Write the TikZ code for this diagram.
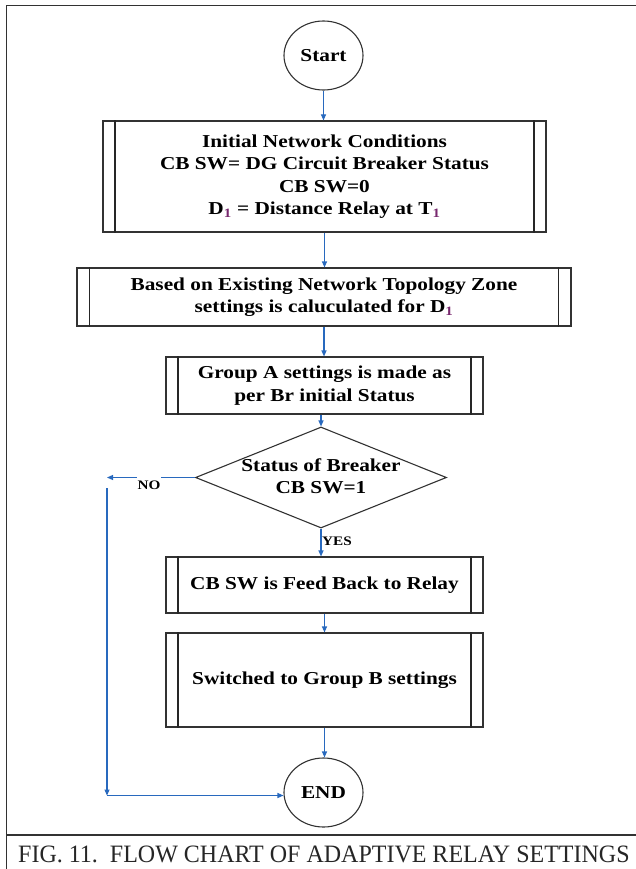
\documentclass[tikz,border=0pt]{standalone}
\usepackage{fontspec}
\setmainfont{Liberation Serif}
\newfontfamily\dfont{Liberation Serif}[FakeStretch=1.17]
\newfontfamily\capfont{Liberation Serif}[FakeStretch=0.96]
\usetikzlibrary{shapes.geometric,arrows.meta,calc}
\definecolor{flowblue}{RGB}{40,105,190}
\definecolor{subpurple}{RGB}{120,40,110}
\definecolor{edgegray}{RGB}{50,50,50}
\newcommand\sidebars[2]{%
  \draw[barline] ([xshift=#2pt]#1.north west) -- ([xshift=#2pt]#1.south west)
                 ([xshift=-#2pt]#1.north east) -- ([xshift=-#2pt]#1.south east);}
\begin{document}
\begin{tikzpicture}[x=1pt,y=-1pt,
  boxtext/.style={font=\dfont\bfseries\fontsize{18.2}{22.5}\selectfont, align=center, text=black},
  procbox/.style={boxtext, draw=edgegray, line width=1.1pt, inner sep=0pt},
  barline/.style={draw=black!85, line width=1.3pt},
  term/.style={boxtext, ellipse, draw=edgegray, line width=1.1pt, inner sep=0pt, minimum width=79pt, minimum height=69pt},
  decision/.style={diamond, draw=edgegray, line width=1.1pt, inner sep=0pt},
  arr/.style={draw=flowblue, line width=1.1pt, -{Triangle[length=6pt,width=5pt]}},
  smalllabel/.style={font=\dfont\bfseries\fontsize{13}{15}\selectfont, text=black},
  framestyle/.style={draw=edgegray, line width=1.4pt}]
\fill[white] (0,0) rectangle (635,869);
\useasboundingbox (0,0) rectangle (635,869);
% frame
\draw[framestyle] (636,5.5) -- (6.5,5.5) -- (6.5,870);
\draw[framestyle] (6.5,835) -- (636,835);
% nodes
\node[term] (start) at (323.5,55.5) {Start};
\node[procbox, minimum width=443pt, minimum height=111pt] (b1) at (324.5,176.5)
  {Initial Network Conditions\\CB SW= DG Circuit Breaker Status\\CB SW=0\\D\textsubscript{\color{subpurple}1} = Distance Relay at T\textsubscript{\color{subpurple}1}};
\sidebars{b1}{12.5}
\node[procbox, minimum width=494pt, minimum height=58pt] (b2) at (324,297)
  {Based on Existing Network Topology Zone\\settings is caluculated for D\textsubscript{\color{subpurple}1}};
\sidebars{b2}{13}
\node[procbox, minimum width=317pt, minimum height=57pt] (b3) at (324.5,385.5)
  {Group A settings is made as\\per Br initial Status};
\sidebars{b3}{12.5}
\node[decision, minimum width=251pt, minimum height=101pt] (dia) at (321,477.5) {};
\node[boxtext, inner sep=0pt] (diat) at (321,476) {Status of Breaker\\CB SW=1};
\node[procbox, minimum width=317pt, minimum height=56pt] (b4) at (324.5,585)
  {CB SW is Feed Back to Relay};
\sidebars{b4}{12.5}
\node[procbox, minimum width=317pt, minimum height=94pt] (b5) at (324.5,680)
  {Switched to Group B settings};
\sidebars{b5}{12.5}
\node[term] (end) at (323.5,792.5) {END};
% caption
\node[anchor=base west, inner sep=0pt, font=\capfont\fontsize{25}{30}\selectfont, text=black!85] (cap) at (18,862)
  {FIG. 11.\ \ FLOW CHART OF ADAPTIVE RELAY SETTINGS};
% connectors
\draw[arr] (start.south) -- (start.south |- b1.north);
\draw[arr] (b1.south) -- (b1.south |- b2.north);
\draw[arr] (b2.south) -- (b2.south |- b3.north);
\draw[arr] (dia.north |- b3.south) -- (dia.north);
\draw[arr] (dia.south) -- (dia.south |- b4.north);
\draw[arr] (b4.south) -- (b4.south |- b5.north);
\draw[arr] (b5.south) -- (b5.south |- end.north);
\coordinate (noend) at (107,477.5);
\draw[arr] (dia.west) -- (noend);
\node[smalllabel, fill=white, inner xsep=1pt, inner ysep=5pt] (no) at (149,485.5) {NO};
\node[smalllabel, inner sep=0pt] (yes) at (337,541.5) {YES};
\coordinate (vtop) at (107,488);
\coordinate (corner) at (107,795.5);
\draw[arr] (vtop) -- (corner);
\draw[arr] (corner) -- (end.west |- corner);
\end{tikzpicture}
\end{document}
